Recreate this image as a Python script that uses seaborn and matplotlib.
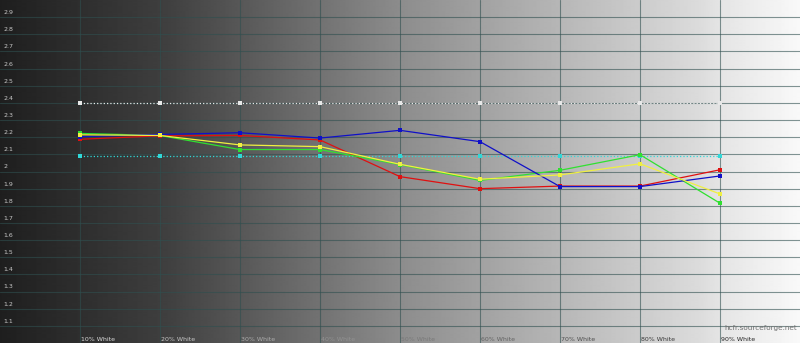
import numpy as np
import pandas as pd
import matplotlib
matplotlib.use("Agg")
import matplotlib.pyplot as plt
import seaborn as sns

# ---- data ----
levels = [10, 20, 30, 40, 50, 60, 70, 80, 90]
level_labels = ["10% White", "20% White", "30% White", "40% White", "50% White",
                "60% White", "70% White", "80% White", "90% White"]
red = [2.188, 2.208, 2.210, 2.184, 1.97, 1.900, 1.915, 1.915, 2.010]
green = [2.222, 2.210, 2.128, 2.128, 2.040, 1.948, 2.007, 2.098, 1.815]
blue = [2.203, 2.216, 2.226, 2.195, 2.240, 2.174, 1.912, 1.912, 1.974]
yellow = [2.214, 2.210, 2.155, 2.145, 2.042, 1.955, 1.980, 2.045, 1.869]
target_white = [2.40] * 9
target_cyan = [2.09] * 9
y_ticks = [1.1, 1.2, 1.3, 1.4, 1.5, 1.6, 1.7, 1.8, 1.9, 2.0,
           2.1, 2.2, 2.3, 2.4, 2.5, 2.6, 2.7, 2.8, 2.9]
y_tick_labels = ["1.1", "1.2", "1.3", "1.4", "1.5", "1.6", "1.7", "1.8", "1.9", "2",
                 "2.1", "2.2", "2.3", "2.4", "2.5", "2.6", "2.7", "2.8", "2.9"]

sns.set_theme(style="white")
plt.rcParams['font.family'] = ['DejaVu Sans']

fig = plt.figure(figsize=(8.0, 3.43), dpi=100)
ax = fig.add_axes([0, 0, 1, 1])
ax.set_xlim(0, 100)
ax.set_ylim(1.0, 3.0)

# background gradient
gx = np.linspace(0, 100, 800)
stops_x = [0, 21, 50, 87.5, 90, 100]
stops_v = [0.12, 0.25, 0.55, 0.86, 0.895, 0.975]
gv = np.interp(gx, stops_x, stops_v)
ax.imshow(gv[np.newaxis, :], extent=[0, 100, 1.0, 3.0], aspect="auto",
          cmap="gray", vmin=0, vmax=1, zorder=0, interpolation="bilinear")

# grid
for yv in y_ticks:
    ax.axhline(yv, color="#2f4f4f", alpha=0.6, lw=0.8, zorder=1)
for xv in levels:
    ax.axvline(xv, color="#2f4f4f", alpha=0.6, lw=0.8, zorder=1)

# reference lines
ref = pd.DataFrame({"level": levels * 2,
                    "gamma": target_white + target_cyan,
                    "series": ["white"] * 9 + ["cyan"] * 9})
sns.lineplot(data=ref, x="level", y="gamma", hue="series",
             palette={"white": "#e8e8e8", "cyan": "#30d8d8"},
             marker="s", markersize=3.2, markeredgewidth=0, lw=0.9,
             linestyle=":", legend=False, ax=ax, zorder=3)

meas = pd.DataFrame({"level": levels * 4,
                     "gamma": red + green + blue + yellow,
                     "series": ["red"] * 9 + ["green"] * 9 + ["blue"] * 9 + ["yellow"] * 9})
sns.lineplot(data=meas, x="level", y="gamma", hue="series",
             hue_order=["red", "green", "blue", "yellow"],
             palette={"red": "#e01010", "green": "#30e030", "blue": "#1010c8", "yellow": "#f0f040"},
             marker="s", markersize=3.2, markeredgewidth=0, lw=0.9,
             legend=False, ax=ax, zorder=4)

ax.set_xticks([])
ax.set_yticks([])
ax.set_xlabel("")
ax.set_ylabel("")
for s in ax.spines.values():
    s.set_visible(False)

# y labels (inside, top-left of each grid line)
for yv, lab in zip(y_ticks, y_tick_labels):
    ax.text(0.4, yv + 0.012, lab, fontsize=4.5, color="#c8c8c8",
            ha="left", va="bottom", zorder=5)

# x labels at bottom
for xv, lab in zip(levels, level_labels):
    bg = float(np.interp(xv + 3, stops_x, stops_v))
    c = max(0.15, min(0.88, 1.05 - bg))
    ax.text(xv + 0.1, 1.005, lab, fontsize=4.5, color=(c, c, c),
            ha="left", va="bottom", zorder=5)

ax.text(99.6, 1.09, "hcfr.sourceforge.net", fontsize=5.2, color="#707070",
        ha="right", va="center", zorder=5)

fig.savefig("out.png", dpi=100)
